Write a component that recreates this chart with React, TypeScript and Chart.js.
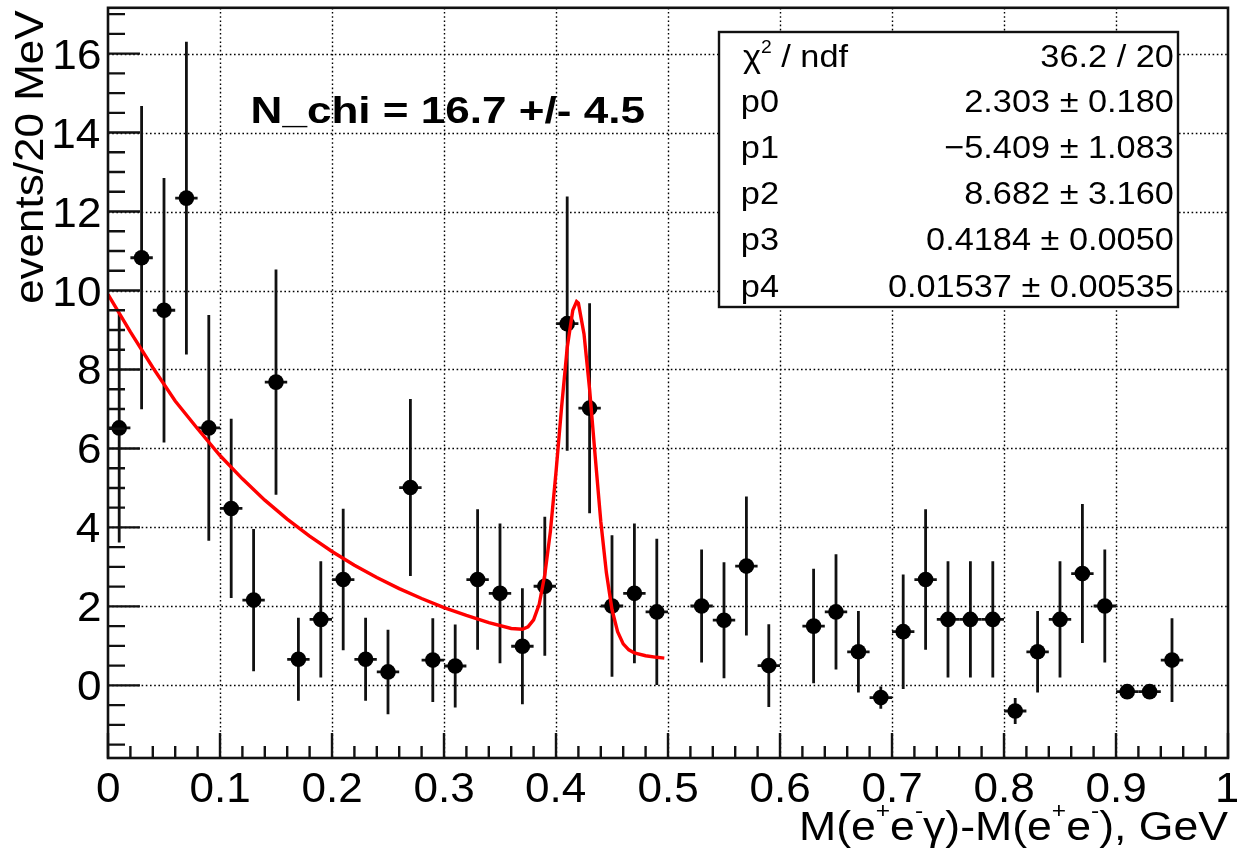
import React, { useEffect, useRef } from "react";
import { Chart, registerables } from "chart.js";

Chart.register(...registerables);

// ---------------- data ----------------
const binCenters = [
  0.01, 0.03, 0.05, 0.07, 0.09, 0.11, 0.13, 0.15, 0.17, 0.19, 0.21, 0.23, 0.25, 0.27, 0.29, 0.31,
  0.33, 0.35, 0.37, 0.39, 0.41, 0.43, 0.45, 0.47, 0.49, 0.53, 0.55, 0.57, 0.59, 0.63, 0.65, 0.67,
  0.69, 0.71, 0.73, 0.75, 0.77, 0.79, 0.81, 0.83, 0.85, 0.87, 0.89, 0.91, 0.93, 0.95,
];
const eventsPerBin = [
  6.52, 10.83, 9.5, 12.34, 6.52, 4.48, 2.16, 7.68, 0.66, 1.67, 2.68, 0.66, 0.34, 5.01, 0.64, 0.49,
  2.68, 2.33, 0.99, 2.51, 9.16, 7.02, 2.01, 2.33, 1.86, 2.01, 1.65, 3.02, 0.5, 1.5, 1.86, 0.85,
  -0.31, 1.36, 2.68, 1.67, 1.67, 1.67, -0.65, 0.85, 1.67, 2.83, 2.01, -0.16, -0.16, 0.64,
];
const eventErrors = [
  2.9, 3.84, 3.35, 3.96, 2.86, 2.27, 1.8, 2.85, 1.05, 1.47, 1.79, 1.05, 1.07, 2.24, 1.06, 1.05,
  1.78, 1.77, 1.47, 1.76, 3.22, 2.66, 1.79, 1.77, 1.85, 1.43, 1.47, 1.76, 1.05, 1.45, 1.46, 1.03,
  0.28, 1.45, 1.78, 1.47, 1.47, 1.47, 0.33, 1.03, 1.47, 1.76, 1.43, 0.12, 0.15, 1.06,
];
const binHalfWidth = 0.01;

const fitX = [
  0, 0.02, 0.04, 0.06, 0.08, 0.1, 0.12, 0.14, 0.16, 0.18, 0.2, 0.22, 0.24, 0.26, 0.28, 0.3, 0.32,
  0.34, 0.36, 0.37, 0.375, 0.38, 0.385, 0.39, 0.395, 0.4, 0.405, 0.41, 0.415, 0.4184, 0.42, 0.425,
  0.43, 0.435, 0.44, 0.445, 0.45, 0.455, 0.46, 0.465, 0.47, 0.48, 0.49, 0.4967,
];
const fitY = [
  9.9, 8.95, 8.05, 7.2, 6.5, 5.82, 5.23, 4.69, 4.21, 3.78, 3.39, 3.04, 2.73, 2.45, 2.2, 1.97, 1.77,
  1.59, 1.44, 1.42, 1.48, 1.66, 2.05, 2.8, 3.9, 5.4, 7.05, 8.55, 9.5, 9.72, 9.68, 8.9, 7.5, 5.8,
  4.15, 2.85, 1.92, 1.36, 1.05, 0.9, 0.82, 0.75, 0.71, 0.69,
];

const xTickValues = [0, 0.1, 0.2, 0.3, 0.4, 0.5, 0.6, 0.7, 0.8, 0.9, 1];
const xTickLabels = ["0", "0.1", "0.2", "0.3", "0.4", "0.5", "0.6", "0.7", "0.8", "0.9", "1"];
const yTickValues = [0, 2, 4, 6, 8, 10, 12, 14, 16];
const yTickLabels = ["0", "2", "4", "6", "8", "10", "12", "14", "16"];

const statNames = ["chi2", "p0", "p1", "p2", "p3", "p4"];
const statValues = [
  "36.2 / 20",
  "2.303 ± 0.180",
  "−5.409 ± 1.083",
  "8.682 ± 3.160",
  "0.4184 ± 0.0050",
  "0.01537 ± 0.00535",
];
const annotationText = "N_chi = 16.7 +/- 4.5";
const yTitle = "events/20 MeV";

// ---------------- drawing helpers ----------------
const FAMILY = '"Liberation Sans", Arimo, Arial, Helvetica, sans-serif';
const fnt = (size: number, bold = false) => `${bold ? "bold " : ""}${size}px ${FAMILY}`;

type Seg = { t: string; sup?: boolean };

function fitText(ctx: CanvasRenderingContext2D, text: string, inkL: number, inkR: number, base: number, f: string) {
  ctx.save();
  ctx.font = f;
  const m = ctx.measureText(text);
  const ink = m.actualBoundingBoxLeft + m.actualBoundingBoxRight;
  const sx = (inkR - inkL) / ink;
  ctx.translate(inkL + m.actualBoundingBoxLeft * sx, base);
  ctx.scale(sx, 1);
  ctx.textAlign = "left";
  ctx.textBaseline = "alphabetic";
  ctx.fillText(text, 0, 0);
  ctx.restore();
}

function drawTextAt(
  ctx: CanvasRenderingContext2D,
  text: string,
  x: number,
  base: number,
  f: string,
  sx: number,
  align: "left" | "right" | "center"
) {
  ctx.save();
  ctx.font = f;
  const m = ctx.measureText(text);
  let ox = x;
  if (align === "left") ox = x + m.actualBoundingBoxLeft * sx;
  else if (align === "right") ox = x - m.actualBoundingBoxRight * sx;
  else ox = x - (sx * (m.actualBoundingBoxRight - m.actualBoundingBoxLeft)) / 2;
  ctx.translate(ox, base);
  ctx.scale(sx, 1);
  ctx.textAlign = "left";
  ctx.textBaseline = "alphabetic";
  ctx.fillText(text, 0, 0);
  ctx.restore();
}

function richWidth(ctx: CanvasRenderingContext2D, segs: Seg[], size: number, supSize: number) {
  let w = 0;
  for (const s of segs) {
    ctx.font = fnt(s.sup ? supSize : size);
    w += ctx.measureText(s.t).width;
  }
  return w;
}

function drawRich(
  ctx: CanvasRenderingContext2D,
  segs: Seg[],
  x: number,
  base: number,
  size: number,
  supSize: number,
  raise: number,
  sx: number
) {
  ctx.save();
  ctx.translate(x, base);
  ctx.scale(sx, 1);
  ctx.textAlign = "left";
  ctx.textBaseline = "alphabetic";
  let cx = 0;
  for (const s of segs) {
    ctx.font = fnt(s.sup ? supSize : size);
    ctx.fillText(s.t, cx, s.sup ? -raise : 0);
    cx += ctx.measureText(s.t).width;
  }
  ctx.restore();
}

const rootStylePlugin = {
  id: "rootStyle",
  beforeDatasetsDraw(chart: any) {
    const ctx: CanvasRenderingContext2D = chart.ctx;
    const xs = chart.scales.x;
    const ys = chart.scales.y;
    const a = chart.chartArea;
    ctx.save();
    // dotted grid
    ctx.strokeStyle = "#000";
    ctx.lineWidth = 1.4;
    ctx.setLineDash([1.6, 2.6]);
    for (const v of xTickValues) {
      if (v <= 0 || v >= 1) continue;
      const px = Math.round(xs.getPixelForValue(v)) + 0.5;
      ctx.beginPath();
      ctx.moveTo(px, a.top);
      ctx.lineTo(px, a.bottom);
      ctx.stroke();
    }
    for (const v of yTickValues) {
      const py = Math.round(ys.getPixelForValue(v)) + 0.5;
      ctx.beginPath();
      ctx.moveTo(a.left, py);
      ctx.lineTo(a.right, py);
      ctx.stroke();
    }
    ctx.setLineDash([]);
    // error bars
    ctx.strokeStyle = "#111";
    ctx.lineWidth = 2.8;
    for (let i = 0; i < binCenters.length; i++) {
      const x = binCenters[i];
      const y = eventsPerBin[i];
      const e = eventErrors[i];
      const px = xs.getPixelForValue(x);
      const py = ys.getPixelForValue(y);
      ctx.beginPath();
      ctx.moveTo(px, ys.getPixelForValue(y - e));
      ctx.lineTo(px, ys.getPixelForValue(y + e));
      ctx.moveTo(xs.getPixelForValue(x - binHalfWidth), py);
      ctx.lineTo(xs.getPixelForValue(x + binHalfWidth), py);
      ctx.stroke();
    }
    ctx.restore();
  },
  afterDatasetsDraw(chart: any) {
    const ctx: CanvasRenderingContext2D = chart.ctx;
    const xs = chart.scales.x;
    const ys = chart.scales.y;
    const a = chart.chartArea;
    ctx.save();
    ctx.fillStyle = "#000";
    ctx.strokeStyle = "#111";
    // ticks
    ctx.lineWidth = 2.4;
    ctx.beginPath();
    for (let k = 0; k <= 50; k++) {
      const v = k * 0.02;
      const px = xs.getPixelForValue(v);
      const len = k % 5 === 0 ? 25 : 12;
      ctx.moveTo(px, a.bottom);
      ctx.lineTo(px, a.bottom - len);
    }
    for (let k = -3; k <= 34; k++) {
      const v = k * 0.5;
      const py = ys.getPixelForValue(v);
      if (py < a.top || py > a.bottom) continue;
      const len = k % 4 === 0 ? 32 : 17;
      ctx.moveTo(a.left, py);
      ctx.lineTo(a.left + len, py);
    }
    ctx.stroke();
    // frame
    ctx.lineWidth = 2.6;
    ctx.strokeRect(a.left, a.top, a.right - a.left, a.bottom - a.top);

    // tick labels
    const labelFont = fnt(42);
    xTickValues.forEach((v, i) => {
      drawTextAt(ctx, xTickLabels[i], xs.getPixelForValue(v), 802, labelFont, 1.05, "center");
    });
    yTickValues.forEach((v, i) => {
      drawTextAt(ctx, yTickLabels[i], 100, ys.getPixelForValue(v) + 15, labelFont, 1.05, "right");
    });

    // y title (rotated, aligned to the top end of the axis)
    ctx.save();
    ctx.translate(43, 10);
    ctx.rotate(-Math.PI / 2);
    ctx.font = fnt(40);
    const mt = ctx.measureText(yTitle);
    const ysx = 1.1;
    ctx.translate(-mt.actualBoundingBoxRight * ysx, 0);
    ctx.scale(ysx, 1);
    ctx.textAlign = "left";
    ctx.fillText(yTitle, 0, 0);
    ctx.restore();

    // x title with superscripts
    const xTitleSegs: Seg[] = [
      { t: "M(e" },
      { t: "+", sup: true },
      { t: "e" },
      { t: "-", sup: true },
      { t: "γ)-M(e" },
      { t: "+", sup: true },
      { t: "e" },
      { t: "-", sup: true },
      { t: "), GeV" },
    ];
    const xtSize = 40;
    const xtSup = 22;
    const xtw = richWidth(ctx, xTitleSegs, xtSize, xtSup);
    const xtsx = 429 / xtw;
    drawRich(ctx, xTitleSegs, 1228 - xtw * xtsx, 840, xtSize, xtSup, 22, xtsx);

    // annotation
    fitText(ctx, annotationText, 253, 645, 123, fnt(36, true));

    // stats box
    const bx0 = 719, by0 = 32, bx1 = 1178, by1 = 307;
    ctx.fillStyle = "#fff";
    ctx.fillRect(bx0, by0, bx1 - bx0, by1 - by0);
    ctx.lineWidth = 2.4;
    ctx.strokeStyle = "#111";
    ctx.strokeRect(bx0, by0, bx1 - bx0, by1 - by0);
    ctx.fillStyle = "#000";
    const sFont = fnt(32);
    ctx.font = sFont;
    const mRef = ctx.measureText(statValues[5]);
    const ssx = 284 / (mRef.actualBoundingBoxLeft + mRef.actualBoundingBoxRight);
    const baselines = [66.7, 111.7, 157.7, 204, 250, 296.7];
    statNames.forEach((name, i) => {
      const b = baselines[i];
      if (name === "chi2") {
        drawRich(ctx, [{ t: "χ" }, { t: "2", sup: true }, { t: " / ndf" }], 743, b, 32, 18, 14, ssx);
      } else {
        drawTextAt(ctx, name, 743, b, sFont, ssx, "left");
      }
      drawTextAt(ctx, statValues[i], 1173, b, sFont, ssx, "right");
    });
    ctx.restore();
  },
};

export default function App() {
  const canvasRef = useRef<HTMLCanvasElement | null>(null);

  useEffect(() => {
    const canvas = canvasRef.current;
    if (!canvas) return;
    const fitData = fitX.map((x, i) => ({ x, y: fitY[i] }));
    const pointData = binCenters.map((x, i) => ({ x, y: eventsPerBin[i] }));
    const chart = new Chart(canvas, {
      type: "scatter",
      data: {
        datasets: [
          {
            type: "line",
            label: "fit",
            data: fitData,
            borderColor: "#ff0000",
            borderWidth: 3.4,
            pointRadius: 0,
            tension: 0,
            fill: false,
            showLine: true,
          } as any,
          {
            label: "data",
            data: pointData,
            backgroundColor: "#000",
            borderColor: "#000",
            borderWidth: 0,
            pointRadius: 7.8,
            pointHoverRadius: 7.8,
          },
        ],
      },
      options: {
        responsive: false,
        animation: false,
        devicePixelRatio: 1,
        events: [],
        layout: { padding: { left: 108, right: 9, top: 7, bottom: 99 } },
        scales: {
          x: { type: "linear", min: 0, max: 1, display: false },
          y: { type: "linear", min: -1.84, max: 17.16, display: false },
        },
        plugins: {
          legend: { display: false },
          tooltip: { enabled: false },
        },
      },
      plugins: [rootStylePlugin],
    });
    return () => chart.destroy();
  }, []);

  return (
    <div style={{ position: "fixed", left: 0, top: 0, width: 1237, height: 857, background: "#fff" }}>
      <canvas ref={canvasRef} width={1237} height={857} style={{ width: 1237, height: 857, display: "block" }} />
    </div>
  );
}
